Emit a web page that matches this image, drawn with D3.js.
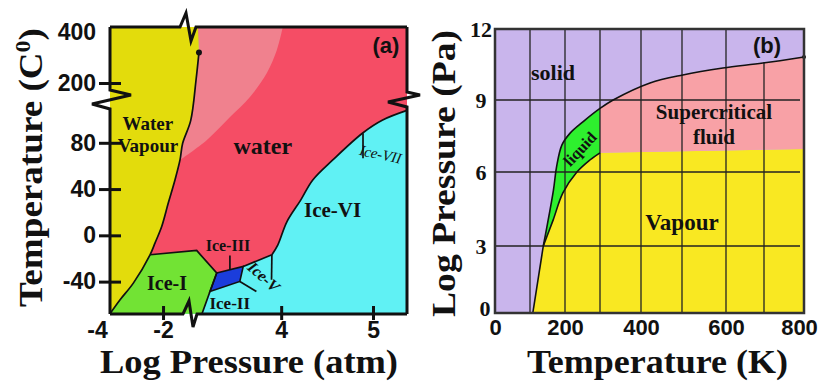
<!DOCTYPE html>
<html>
<head>
<meta charset="utf-8">
<script src="https://cdn.jsdelivr.net/npm/d3@7"></script>
<style>
  html, body { margin: 0; padding: 0; background: #fff; }
  svg { display: block; }
</style>
</head>
<body>
<svg id="chart" width="821" height="383"></svg>
<script>
// ############################################################################
// Phase diagrams: (a) water, (b) generic substance
// ############################################################################

// ----------------------------------------------------------------------------
// Data, panel (a): [log pressure (atm), temperature (C)]
// ----------------------------------------------------------------------------

const aTempTicks = [400, 200, 80, 40, 0, -40]
const aPresTicks = [-4, -2, 4, 5]

const aSublimation = [[-4, -67.8], [-3.62, -55.7], [-3.12, -41.3], [-2.49, -16.8]]
const aVaporization = [
  [-2.49, -16.8], [-2.30, -6.5], [-2.05, 7.6], [-1.80, 28.1], [-1.55, 47.9],
  [-1.36, 65.2], [-1.26, 79.6], [-0.955, 99.4], [3.073, 211.8], [3.105, 320]
]
const aCriticalPoint = [3.105, 320]
const aIceIMelt = [[-2.49, -16.8], [3.08, -13.1], [3.298, -32.6]]
const aIceIEdge = [[3.298, -32.6], [3.225, -48.5], [3.138, -67.8]]
const aIceIII = [[3.298, -32.6], [3.587, -26.9], [3.55, -39.9], [3.225, -48.5]]
const aIceIIITop = [[3.587, -26.9], [3.899, -16.8]]
const aIceVIMelt = [
  [3.899, -16.8], [3.964, -8.2], [4.062, 11.7], [4.214, 30.7], [4.344, 47.9],
  [4.562, 65.2], [4.888, 88.5], [5.105, 99.7], [5.37, 108]
]
const aSupercritEdge = [
  [4.018, 420], [3.953, 329.4], [3.844, 239.2], [3.66, 131.6],
  [3.443, 102.3], [3.192, 82.5], [-1.36, 65.2]
]
const aIceIIIMark = [[3.442, -17.5], [3.442, -29.5]]
const aIceVMark = [[3.55, -39.9], [3.73, -48.5]]
const aIceVIMark = [[3.899, -16.8], [3.895, -38.4]]
const aIceVIIMark = [[4.891, 88.3], [4.891, 66.7]]

// ----------------------------------------------------------------------------
// Data, panel (b): [temperature (K), log pressure (Pa)]
// ----------------------------------------------------------------------------

const bTempTicks = [0, 200, 400, 600, 800]
const bTempGrid = [100, 200, 300, 400, 500, 600, 700]
const bPresTicks = [0, 3, 6, 9, 12]
const bPresGrid = [3, 6, 9]

const bSublimation = [[108, 0], [138, 3.0]]
const bMelting = [
  [138, 3.0], [167, 5.27], [176, 6.22], [191, 7.12], [214, 7.61], [252, 8.1],
  [300, 8.65], [332, 9.0], [422, 9.72], [502, 10.06], [593, 10.35],
  [697, 10.56], [800, 10.82]
]
const bVaporization = [[138, 3.0], [166, 4.05], [194, 5.15], [234, 6.0], [271, 6.5], [300, 6.8]]
const bFluidEdge = [[300, 6.8], [800, 6.96]]

// ----------------------------------------------------------------------------
// Styles
// ----------------------------------------------------------------------------

const serif = '"Liberation Serif", "Times New Roman", serif'
const sans = '"Liberation Sans", Arial, sans-serif'
const ink = '#111'

const colA = {
  vapour: '#e3dc0c', water: '#f54d65', hot: '#f0818e',
  iceI: '#72e334', iceIII: '#1b3ddb', ice: '#60f1f4'
}
const colB = {
  solid: '#c9b5ec', vapour: '#f9e822', liquid: '#2ef02e', fluid: '#f8a1a6'
}

const svg = d3.select('#chart')

// ----------------------------------------------------------------------------
// Scales (broken axes in (a), hand drawn spacing in (b))
// ----------------------------------------------------------------------------

const xA = d3.scaleLinear().domain([-4, -0.87, 3.04, 5.37]).range([110, 193, 193, 407])
const yA = d3.scaleLinear().domain([-68, 117, 200, 400, 420]).range([314, 100, 83, 32, 27])

const xB = d3.scaleLinear()
  .domain([0, 100, 200, 300, 400, 500, 600, 700, 800])
  .range([495, 530, 565, 600, 641, 682, 726, 764, 804])
const yB = d3.scaleLinear().domain([0, 3, 6, 9, 12]).range([313, 246, 172, 100, 29])

// ----------------------------------------------------------------------------
// Helpers
// ----------------------------------------------------------------------------

// Build one closed path from several pieces, each straight or smooth
function regionPath(parts, x, y)
{
  let d = ''
  for (let part of parts)
  {
    let pts = part.pts.map(p => [x(p[0]), y(p[1])])
    let gen = d3.line().curve(part.smooth ? d3.curveCatmullRom : d3.curveLinear)
    let seg = gen(pts)
    d += (d === '') ? seg : 'L' + seg.slice(1)
  }
  return d + 'Z'
}

function linePath(pts, x, y, smooth)
{
  return d3.line()
    .x(p => x(p[0]))
    .y(p => y(p[1]))
    .curve(smooth ? d3.curveCatmullRom : d3.curveLinear)(pts)
}

const rev = arr => arr.slice().reverse()

function label(g, txt, px, py, size, opts = {})
{
  let t = g.append('text')
    .attr('x', px)
    .attr('y', py)
    .attr('text-anchor', opts.anchor || 'middle')
    .attr('dominant-baseline', 'central')
    .style('font-family', opts.family || serif)
    .style('font-weight', opts.weight || 'bold')
    .style('font-style', opts.italic ? 'italic' : 'normal')
    .style('font-size', size + 'px')
    .attr('fill', ink)
    .text(txt)
  if (opts.rotate)
    t.attr('transform', 'rotate(' + opts.rotate + ',' + px + ',' + py + ')')
  return t
}

// ============================================================================
// Panel (a)
// ============================================================================

const ga = svg.append('g')

// Background = ice (II, V, VI, VII)
ga.append('rect')
  .attr('x', xA(-4)).attr('y', yA(420))
  .attr('width', xA(5.37) - xA(-4)).attr('height', yA(-68) - yA(420))
  .attr('fill', colA.ice)

// Liquid water
ga.append('path')
  .attr('d', regionPath([
    { pts: aVaporization, smooth: true },
    { pts: [aCriticalPoint, [3.094, 420], [5.37, 420], [5.37, 108]] },
    { pts: rev(aIceVIMelt), smooth: true },
    { pts: rev(aIceIIITop).concat(rev(aIceIMelt)) }
  ], xA, yA))
  .attr('fill', colA.water)

// Hot water (towards the critical point)
ga.append('path')
  .attr('d', regionPath([
    { pts: aVaporization.slice(5), smooth: true },
    { pts: [aCriticalPoint, [3.094, 420]] },
    { pts: aSupercritEdge, smooth: true }
  ], xA, yA))
  .attr('fill', colA.hot)

// Water vapour
ga.append('path')
  .attr('d', regionPath([
    { pts: [[-4, 420], [3.094, 420], aCriticalPoint] },
    { pts: rev(aVaporization), smooth: true },
    { pts: rev(aSublimation), smooth: true }
  ], xA, yA))
  .attr('fill', colA.vapour)

// Ice-I
ga.append('path')
  .attr('d', regionPath([
    { pts: aIceIMelt.concat(aIceIEdge.slice(1)).concat([[-4, -67.8]]) },
    { pts: aSublimation, smooth: true }
  ], xA, yA))
  .attr('fill', colA.iceI)

// Ice-III
ga.append('path')
  .attr('d', regionPath([{ pts: aIceIII }], xA, yA))
  .attr('fill', colA.iceIII)
  .attr('stroke', ink)
  .attr('stroke-width', 1.6)

// Phase boundaries
const boundaries = [
  { pts: aSublimation.concat(aVaporization.slice(1)), smooth: true },
  { pts: aIceIMelt.concat(aIceIEdge.slice(1)) },
  { pts: aIceIIITop },
  { pts: aIceVIMelt, smooth: true },
  { pts: aIceIIIMark },
  { pts: aIceVMark },
  { pts: aIceVIMark },
  { pts: aIceVIIMark }
]
for (let b of boundaries)
  ga.append('path')
    .attr('d', linePath(b.pts, xA, yA, b.smooth))
    .attr('fill', 'none')
    .attr('stroke', ink)
    .attr('stroke-width', 1.7)

ga.append('circle')
  .attr('cx', xA(aCriticalPoint[0])).attr('cy', yA(aCriticalPoint[1]))
  .attr('r', 3).attr('fill', ink)

// Frame with axis break marks
{
  let L = xA(-4), R = xA(5.37), T = yA(420), B = yA(-68)
  let bx = xA(-0.87), by = yA(117)
  let frame = [
    [[L, B], [L, by + 9], [L - 18, by + 4], [L + 21, by - 5], [L, by - 10], [L, T]],
    [[L, T], [bx - 13, T], [bx - 7, T - 14], [bx - 2, T + 14], [bx + 3, T], [R, T]],
    [[R, T], [R, by - 8], [R + 13, by - 5], [R - 19, by + 2], [R, by + 7], [R, B]],
    [[R, B], [bx + 4, B], [bx, B + 13], [bx - 4, B - 13], [bx - 10, B], [L, B]]
  ]
  for (let f of frame)
    ga.append('path')
      .attr('d', d3.line()(f))
      .attr('fill', 'none')
      .attr('stroke', ink)
      .attr('stroke-width', 3)
      .attr('stroke-linejoin', 'miter')
}

// Axes
const yAxisA = d3.axisLeft(yA).tickValues(aTempTicks).tickSize(22).tickPadding(3)
  .tickFormat(d => String(d))
const gya = ga.append('g').attr('transform', 'translate(121,0)').call(yAxisA)
gya.select('.domain').remove()
gya.selectAll('line').attr('stroke', ink).attr('stroke-width', 3)
gya.selectAll('.tick').filter(d => d === 400).select('line').remove()
gya.selectAll('text').attr('fill', ink)
  .style('font-family', sans).style('font-weight', 'bold').style('font-size', '23px')

const xAxisA = d3.axisBottom(xA).tickValues(aPresTicks).tickSize(14).tickPadding(2)
  .tickFormat(d => String(d))
const gxa = ga.append('g').attr('transform', 'translate(0,306)').call(xAxisA)
gxa.select('.domain').remove()
gxa.selectAll('line').attr('stroke', ink).attr('stroke-width', 3)
gxa.selectAll('.tick').filter(d => d === -4).select('line').remove()
gxa.selectAll('.tick').filter(d => d === -4).select('text').attr('x', -13)
gxa.selectAll('text').attr('fill', ink)
  .style('font-family', sans).style('font-weight', 'bold').style('font-size', '23px')

// Axis titles
ga.append('text')
  .attr('transform', 'translate(42,167.5) rotate(-90)')
  .attr('text-anchor', 'middle')
  .attr('textLength', 279).attr('lengthAdjust', 'spacingAndGlyphs')
  .style('font-family', serif).style('font-weight', 'bold').style('font-size', '34px')
  .attr('fill', ink)
  .call(t => {
    t.append('tspan').text('Temperature (C')
    t.append('tspan').attr('dy', -12).style('font-size', '22px').text('0')
    t.append('tspan').attr('dy', 12).text(')')
  })

ga.append('text')
  .attr('x', 249).attr('y', 373)
  .attr('text-anchor', 'middle')
  .attr('textLength', 298).attr('lengthAdjust', 'spacingAndGlyphs')
  .style('font-family', serif).style('font-weight', 'bold').style('font-size', '34px')
  .attr('fill', ink)
  .text('Log Pressure (atm)')

// Region labels
label(ga, 'Water', xA(-2.57), yA(96.3), 19)
label(ga, 'Vapour', xA(-2.57), yA(77.3), 19)
label(ga, 'water', xA(3.80), yA(77.3), 24)
label(ga, 'Ice-VI', xA(4.56), yA(22), 21)
label(ga, 'Ice-III', xA(3.42), yA(-9.1), 16)
label(ga, 'Ice-I', xA(-1.85), yA(-41), 20)
label(ga, 'Ice-II', xA(3.44), yA(-59.2), 17)
label(ga, 'Ice-V', xA(3.81), yA(-35.8), 16, { italic: true, rotate: 42 })
label(ga, 'Ice-VII', xA(4.855), yA(73.8), 15,
  { italic: true, weight: 'normal', anchor: 'start', rotate: 12 })
label(ga, '(a)', xA(5.14), yA(349), 22, { family: sans })

// ============================================================================
// Panel (b)
// ============================================================================

const gb = svg.append('g')

// Background = solid
gb.append('rect')
  .attr('x', xB(0)).attr('y', yB(12))
  .attr('width', xB(800) - xB(0)).attr('height', yB(0) - yB(12))
  .attr('fill', colB.solid)

// Vapour
gb.append('path')
  .attr('d', regionPath([
    { pts: bSublimation },
    { pts: bVaporization, smooth: true },
    { pts: [bFluidEdge[1], [800, 0]] }
  ], xB, yB))
  .attr('fill', colB.vapour)

// Liquid
gb.append('path')
  .attr('d', regionPath([
    { pts: bMelting.slice(0, 7), smooth: true },
    { pts: [bFluidEdge[0]] },
    { pts: rev(bVaporization), smooth: true }
  ], xB, yB))
  .attr('fill', colB.liquid)

// Supercritical fluid
gb.append('path')
  .attr('d', regionPath([
    { pts: [bFluidEdge[0]] },
    { pts: bMelting.slice(6), smooth: true },
    { pts: [bFluidEdge[1]] }
  ], xB, yB))
  .attr('fill', colB.fluid)

// Grid
for (let t of bTempGrid)
  gb.append('line')
    .attr('x1', xB(t)).attr('x2', xB(t))
    .attr('y1', yB(0)).attr('y2', yB(t === 700 ? 10.6 : 12))
    .attr('stroke', '#222').attr('stroke-width', 1.3)
for (let p of bPresGrid)
  gb.append('line')
    .attr('x1', xB(0)).attr('x2', xB(790))
    .attr('y1', yB(p)).attr('y2', yB(p))
    .attr('stroke', '#222').attr('stroke-width', 1.3)

// Phase boundaries
for (let b of [
  { pts: bSublimation },
  { pts: bMelting, smooth: true },
  { pts: bVaporization, smooth: true }
])
  gb.append('path')
    .attr('d', linePath(b.pts, xB, yB, b.smooth))
    .attr('fill', 'none')
    .attr('stroke', ink)
    .attr('stroke-width', 1.6)

gb.append('circle')
  .attr('cx', xB(800)).attr('cy', yB(10.82))
  .attr('r', 2).attr('fill', ink)

// Frame
gb.append('rect')
  .attr('x', xB(0)).attr('y', yB(12))
  .attr('width', xB(800) - xB(0)).attr('height', yB(0) - yB(12))
  .attr('fill', 'none')
  .attr('stroke', '#333')
  .attr('stroke-width', 2.5)

// Axes
const yAxisB = d3.axisLeft(yB).tickValues(bPresTicks).tickSize(0).tickPadding(0)
  .tickFormat(d => String(d))
const gyb = gb.append('g').attr('transform', 'translate(481,0)').call(yAxisB)
gyb.select('.domain').remove()
gyb.selectAll('text').attr('fill', ink).attr('text-anchor', 'middle')
  .style('font-family', serif).style('font-weight', 'bold').style('font-size', '22px')
gyb.selectAll('.tick').filter(d => d === 0).select('text').attr('x', 4).attr('y', -5)

const xAxisB = d3.axisBottom(xB).tickValues(bTempTicks).tickSize(0).tickPadding(6)
  .tickFormat(d => String(d))
const gxb = gb.append('g').attr('transform', 'translate(0,313)').call(xAxisB)
gxb.select('.domain').remove()
gxb.selectAll('text').attr('fill', ink)
  .style('font-family', sans).style('font-weight', 'bold').style('font-size', '22px')
gxb.selectAll('.tick').filter(d => d === 800).select('text').attr('x', -5)

// Axis titles
gb.append('text')
  .attr('transform', 'translate(455,173.5) rotate(-90)')
  .attr('text-anchor', 'middle')
  .attr('textLength', 287).attr('lengthAdjust', 'spacingAndGlyphs')
  .style('font-family', serif).style('font-weight', 'bold').style('font-size', '34px')
  .attr('fill', ink)
  .text('Log Pressure (Pa)')

gb.append('text')
  .attr('x', 657.5).attr('y', 373)
  .attr('text-anchor', 'middle')
  .attr('textLength', 261).attr('lengthAdjust', 'spacingAndGlyphs')
  .style('font-family', serif).style('font-weight', 'bold').style('font-size', '34px')
  .attr('fill', ink)
  .text('Temperature (K)')

// Region labels
label(gb, 'solid', xB(165.7), yB(10.18), 22)
label(gb, 'Supercritical', xB(572.7), yB(8.5), 21)
label(gb, 'fluid', xB(572.7), yB(7.46), 21)
label(gb, 'Vapour', xB(500), yB(3.97), 23)
label(gb, 'liquid', xB(242.9), yB(6.96), 16, { rotate: -47 })
label(gb, '(b)', xB(707.5), yB(11.32), 22, { family: sans })
</script>
</body>
</html>
